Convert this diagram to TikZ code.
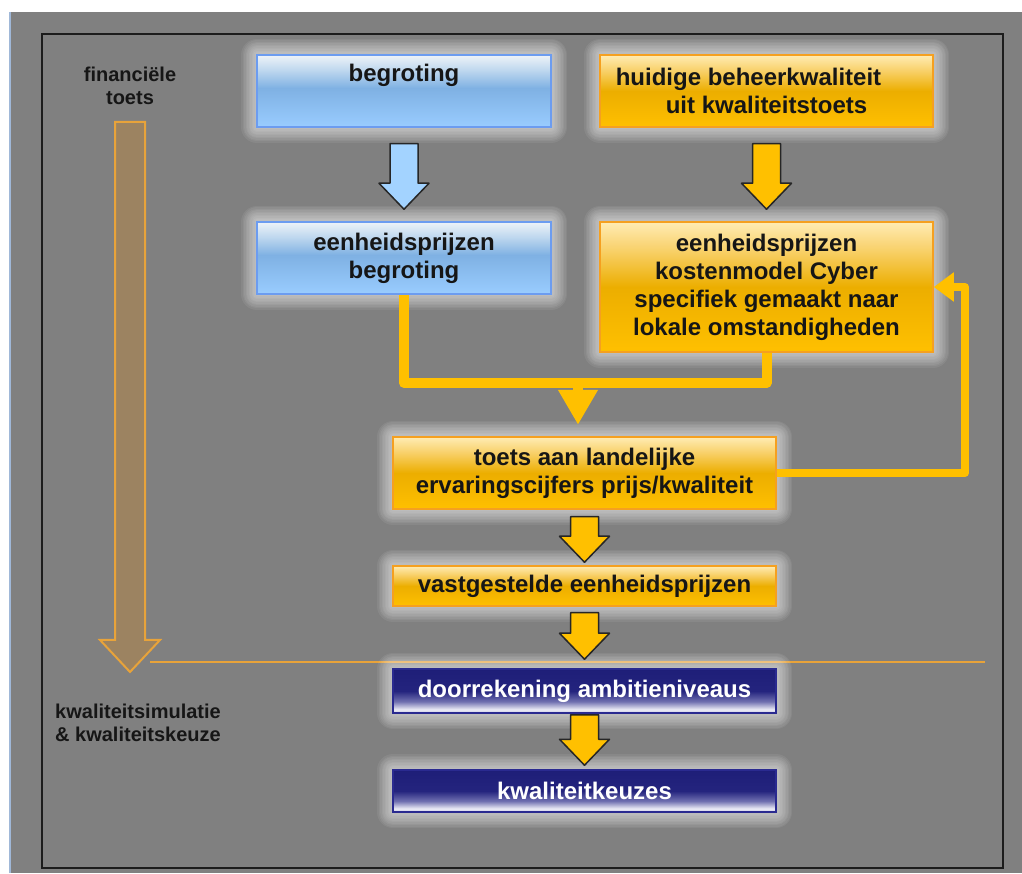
\documentclass[tikz,border=0pt]{standalone}
\usepackage{fontspec}
\setmainfont{Liberation Sans}
\usetikzlibrary{calc,arrows.meta}
\definecolor{bgray}{HTML}{808080}
\definecolor{frameC}{HTML}{1C1C1C}
\definecolor{edgeC}{HTML}{A0B8D8}
\definecolor{txt}{HTML}{161616}
\definecolor{blT}{HTML}{EEF3F8}
\definecolor{blL}{HTML}{BCD6EE}
\definecolor{blM}{HTML}{7FB1E3}
\definecolor{blB}{HTML}{99CCFF}
\definecolor{blBd}{HTML}{6C9CF0}
\definecolor{orT}{HTML}{FFECB4}
\definecolor{orL}{HTML}{F8D068}
\definecolor{orM}{HTML}{ECAE00}
\definecolor{orB}{HTML}{FFC000}
\definecolor{orBd}{HTML}{F5A020}
\definecolor{nvT}{HTML}{1E1E78}
\definecolor{nvM}{HTML}{24247E}
\definecolor{nvL}{HTML}{7070B0}
\definecolor{nvW}{HTML}{ECECF6}
\definecolor{nvB}{HTML}{C8C8E4}
\definecolor{nvBd}{HTML}{2A2A90}
\definecolor{orF}{HTML}{FFC000}
\definecolor{arBd}{HTML}{262626}
\definecolor{blA}{HTML}{A3D3FF}
\definecolor{bigF}{RGB}{156,131,97}
\definecolor{bigBd}{HTML}{E8A33A}
\pgfdeclareverticalshading{bluebox}{100bp}{color(0bp)=(blB); color(25bp)=(blB); color(52bp)=(blM); color(64bp)=(blL); color(75bp)=(blT); color(100bp)=(blT)}
\pgfdeclareverticalshading{orangebox}{100bp}{color(0bp)=(orB); color(25bp)=(orB); color(50bp)=(orM); color(64bp)=(orL); color(75bp)=(orT); color(100bp)=(orT)}
\pgfdeclareverticalshading{navybox}{100bp}{color(0bp)=(nvB); color(25bp)=(nvB); color(29bp)=(nvW); color(38bp)=(nvL); color(50bp)=(nvM); color(75bp)=(nvT); color(100bp)=(nvT)}
\newcommand\blockarr[5]{%
  \draw[barrow, fill=#5] let \p1=($(#1.south)+(0,-#3)$), \p2=($(#2.north)+(0,#4)$) in
    (\x1-14pt,\y1) -- (\x1+14pt,\y1) -- (\x1+14pt,\y2+26pt) -- (\x1+25pt,\y2+26pt) --
    (\x1,\y2) -- (\x1-25pt,\y2+26pt) -- (\x1-14pt,\y2+26pt) -- cycle;}
\begin{document}
\begin{tikzpicture}[x=1pt,y=1pt,
  gl/.style={preaction={draw=white,opacity=0.065,line width=#1,line join=round}},
  glow/.style={gl=32pt,gl=29pt,gl=26pt,gl=23pt,gl=20pt,gl=17pt,gl=14pt,gl=11pt,gl=8pt,gl=5pt},
  box/.style={glow, rectangle, inner sep=0pt, align=center,
              font=\fontsize{24}{28}\selectfont\bfseries, text=txt, line width=1.5pt},
  bluebx/.style={box, draw=blBd, shade, shading=bluebox},
  orangebx/.style={box, draw=orBd, shade, shading=orangebox},
  navybx/.style={box, draw=nvBd, shade, shading=navybox, text=white},
  conn/.style={draw=orF, line width=10pt, line join=round},
  fback/.style={draw=orF, line width=8pt, line join=round},
  barrow/.style={draw=arBd, line width=1.5pt, line join=round},
  bigarr/.style={draw=bigBd, fill=bigF, line width=2pt},
  sepline/.style={draw=bigBd, line width=2pt},
  lbl/.style={font=\fontsize{20}{23}\selectfont\bfseries, text=txt, align=center, inner sep=0pt}
]
\useasboundingbox (0,0) rectangle (1022,873);
% background
\fill[white] (0,0) rectangle (1022,873);
\fill[bgray] (9,0) rectangle (1022,861);
\draw[edgeC, line width=1.5pt] (9.75,0) -- (9.75,861);
\draw[frameC, line width=2pt] (42,5) rectangle (1003,839);

% left side
\node[lbl] (ft) at (130,787) {financiële\\toets};
\node[lbl, align=left, anchor=west] (kq) at (55,150) {kwaliteitsimulatie\\\& kwaliteitskeuze};
\draw[bigarr] (115,751) -- (145,751) -- (145,233) -- (160,233) -- (130,201) -- (100,233) -- (115,233) -- cycle;
\draw[sepline] (150,211) -- (985,211);

% boxes
\node[bluebx, minimum width=294pt, minimum height=72pt] (bg) at (404,782) {begroting\\\strut};
\node[orangebx, minimum width=333pt, minimum height=72pt] (hq) at (766.5,782) {huidige beheerkwaliteit\makebox[36pt]{}\\uit kwaliteitstoets};
\node[bluebx, minimum width=294pt, minimum height=72pt] (eb) at (404,615) {eenheidsprijzen\\begroting};
\node[orangebx, minimum width=333pt, minimum height=130pt] (km) at (766.5,586) {eenheidsprijzen\\kostenmodel Cyber\\specifiek gemaakt naar\\lokale omstandigheden};
\node[orangebx, minimum width=383pt, minimum height=72pt] (ts) at (584.5,400) {toets aan landelijke\\ervaringscijfers prijs/kwaliteit};
\node[orangebx, minimum width=383pt, minimum height=40pt] (vs) at (584.5,287) {vastgestelde eenheidsprijzen};
\node[navybx, minimum width=383pt, minimum height=44pt] (dr) at (584.5,182) {doorrekening ambitieniveaus};
\node[navybx, minimum width=383pt, minimum height=42pt] (kw) at (584.5,82) {kwaliteitkeuzes};

% block arrows
\blockarr{bg}{eb}{16}{12}{blA}
\blockarr{hq}{km}{16}{12}{orF}
\blockarr{ts}{vs}{7}{3}{orF}
\blockarr{vs}{dr}{6}{9}{orF}
\blockarr{dr}{kw}{1}{4}{orF}

% merging connector
\coordinate (j) at (578,490);
\draw[conn] (eb.south) |- (j) -| (km.south);
\draw[conn] (j) -- ++(0,-8);
\fill[orF] let \p1=(j), \p2=($(ts.north)+(0,12)$) in
  (\x1-20pt,\y1-7pt) -- (\x1+20pt,\y1-7pt) -- (\x1,\y2) -- cycle;

% feedback connector
\coordinate (fbx) at (965,0);
\draw[fback, -{Triangle[width=28pt,length=20pt]}] (ts.east) -- (ts.east -| fbx) -- (km.east -| fbx) -- (km.east);
\end{tikzpicture}
\end{document}
